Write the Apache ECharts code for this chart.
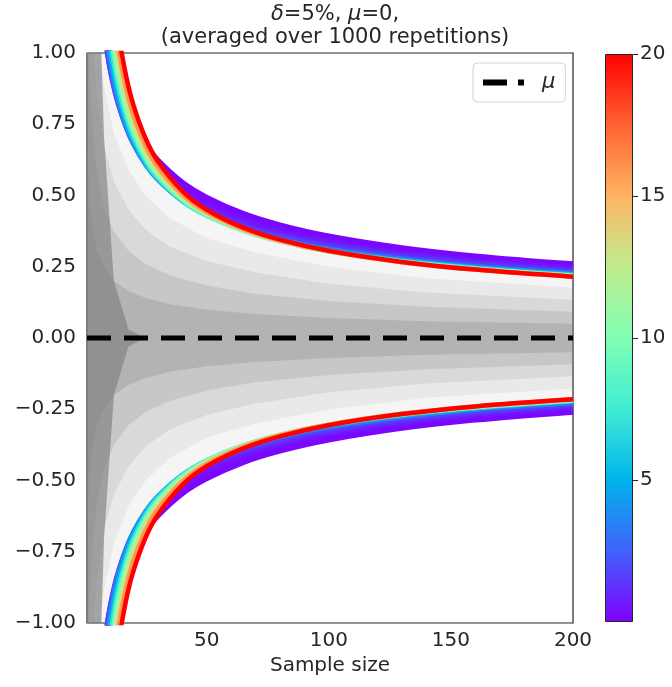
<!DOCTYPE html>
<html>
<head>
<meta charset="utf-8">
<script src="https://cdn.jsdelivr.net/npm/echarts@6/dist/echarts.min.js"></script>
<style>
  html, body { margin: 0; padding: 0; background: #fff; }
  #main { width: 672px; height: 687px; }
</style>
</head>
<body>
<div id="main"></div>
<script>
// gray cloud of running means, read as nested envelopes (half widths)
var grayN = [1, 2, 3, 5, 8, 12, 18, 25, 35, 50, 70, 100, 140, 200];
var grayOuter = [3.2, 2.26, 1.85, 1.43, 1.13, 0.92, 0.75, 0.64, 0.54, 0.45, 0.38, 0.32, 0.27, 0.226];
var grayWide = [2.5, 1.77, 1.44, 1.12, 0.88, 0.72, 0.59, 0.50, 0.42, 0.35, 0.30, 0.25, 0.21, 0.177];
var grayMid = [1.9, 1.34, 1.10, 0.85, 0.67, 0.55, 0.45, 0.38, 0.32, 0.27, 0.23, 0.19, 0.16, 0.134];
var grayInner = [1.3, 0.92, 0.75, 0.58, 0.46, 0.375, 0.306, 0.26, 0.22, 0.184, 0.155, 0.13, 0.11, 0.092];
var grayCenter = [0.7, 0.49, 0.40, 0.31, 0.25, 0.20, 0.165, 0.14, 0.118, 0.099, 0.084, 0.07, 0.059, 0.05];
var grayCore = [3.0, 2.6, 2.2, 1.5, 0.7, 0.2, 0.03, 0, 0, 0, 0, 0, 0, 0];

// confidence bounds, one row per colour value
var boundN = [8, 10, 12, 14, 17, 20, 25, 30, 40, 50, 65, 80, 100, 130, 160, 200];
var boundRho = [0.1, 0.2, 0.3, 0.5, 0.7, 1, 1.5, 3, 5, 7, 9, 11, 13, 16, 20];
var bounds = [
  [1.147, 1.035, 0.952, 0.887, 0.812, 0.753, 0.680, 0.626, 0.548, 0.495, 0.438, 0.398, 0.359, 0.318, 0.289, 0.261],
  [1.115, 1.006, 0.925, 0.862, 0.789, 0.732, 0.661, 0.608, 0.533, 0.481, 0.426, 0.388, 0.350, 0.310, 0.282, 0.254],
  [1.099, 0.991, 0.911, 0.848, 0.776, 0.720, 0.650, 0.598, 0.524, 0.473, 0.419, 0.381, 0.344, 0.305, 0.277, 0.250],
  [1.083, 0.974, 0.894, 0.832, 0.760, 0.705, 0.636, 0.585, 0.513, 0.463, 0.411, 0.373, 0.337, 0.299, 0.272, 0.245],
  [1.076, 0.966, 0.886, 0.823, 0.752, 0.697, 0.628, 0.577, 0.506, 0.457, 0.405, 0.368, 0.332, 0.295, 0.268, 0.242],
  [1.073, 0.961, 0.879, 0.816, 0.744, 0.689, 0.620, 0.570, 0.499, 0.450, 0.399, 0.363, 0.327, 0.290, 0.264, 0.238],
  [1.079, 0.961, 0.876, 0.812, 0.738, 0.682, 0.613, 0.562, 0.492, 0.443, 0.392, 0.357, 0.322, 0.285, 0.260, 0.234],
  [1.119, 0.985, 0.890, 0.819, 0.739, 0.679, 0.607, 0.555, 0.482, 0.434, 0.383, 0.348, 0.313, 0.278, 0.252, 0.228],
  [1.188, 1.031, 0.923, 0.843, 0.754, 0.689, 0.611, 0.556, 0.480, 0.430, 0.378, 0.342, 0.308, 0.272, 0.247, 0.223],
  [1.258, 1.081, 0.960, 0.872, 0.775, 0.704, 0.620, 0.561, 0.482, 0.430, 0.377, 0.340, 0.305, 0.270, 0.245, 0.220],
  [1.327, 1.132, 0.999, 0.902, 0.797, 0.721, 0.631, 0.569, 0.485, 0.431, 0.377, 0.339, 0.304, 0.268, 0.243, 0.219],
  [1.393, 1.181, 1.037, 0.932, 0.819, 0.738, 0.643, 0.577, 0.490, 0.434, 0.378, 0.340, 0.304, 0.267, 0.242, 0.217],
  [1.457, 1.229, 1.074, 0.962, 0.842, 0.756, 0.655, 0.586, 0.495, 0.437, 0.379, 0.340, 0.304, 0.266, 0.241, 0.216],
  [1.549, 1.298, 1.129, 1.007, 0.876, 0.782, 0.674, 0.600, 0.504, 0.442, 0.382, 0.342, 0.304, 0.266, 0.240, 0.215],
  [1.664, 1.385, 1.198, 1.064, 0.920, 0.818, 0.700, 0.620, 0.516, 0.450, 0.387, 0.345, 0.306, 0.267, 0.240, 0.215]
];

var meanN = [1, 200];
var meanVal = [0, 0];

var xTicks = [50, 100, 150, 200];
var colorMax = 20;

var TXT = '#262626';
var FONT = 'DejaVu Sans';

// matplotlib 'rainbow' colormap
function rainbow(t) {
  var r = Math.min(1, Math.abs(2 * t - 0.5));
  var g = Math.sin(Math.PI * t);
  var b = Math.cos(Math.PI * t / 2);
  return 'rgb(' + Math.round(r * 255) + ',' + Math.round(g * 255) + ',' + Math.round(b * 255) + ')';
}

function grayBand(vals, color) {
  return {
    type: 'custom',
    coordinateSystem: 'cartesian2d',
    clip: true,
    silent: true,
    z: 1,
    data: [[1, 0]],
    renderItem: function (params, api) {
      var pts = [];
      for (var i = 0; i < grayN.length; i++) pts.push(api.coord([grayN[i], vals[i]]));
      for (var j = grayN.length - 1; j >= 0; j--) pts.push(api.coord([grayN[j], -vals[j]]));
      return { type: 'polygon', shape: { points: pts }, style: { fill: color } };
    }
  };
}

var series = [
  grayBand(grayOuter, 'rgba(128,128,128,0.08)'),
  grayBand(grayWide, 'rgba(128,128,128,0.10)'),
  grayBand(grayMid, 'rgba(128,128,128,0.15)'),
  grayBand(grayInner, 'rgba(128,128,128,0.20)'),
  grayBand(grayCenter, 'rgba(128,128,128,0.28)'),
  grayBand(grayCore, 'rgba(128,128,128,0.65)')
];

for (var k = 0; k < boundRho.length; k++) {
  var col = rainbow(boundRho[k] / colorMax);
  var up = [], lo = [];
  for (var i = 0; i < boundN.length; i++) {
    up.push([boundN[i], bounds[k][i]]);
    lo.push([boundN[i], -bounds[k][i]]);
  }
  [up, lo].forEach(function (d) {
    series.push({
      type: 'line',
      data: d,
      symbol: 'none',
      smooth: 0.35,
      silent: true,
      z: 3,
      lineStyle: { color: col, width: 4.5 }
    });
  });
}

series.push({
  name: 'μ',
  type: 'line',
  data: meanN.map(function (n, i) { return [n, meanVal[i]]; }),
  symbol: 'none',
  z: 4,
  lineStyle: { color: '#000', width: 5, type: [24, 13] },
  itemStyle: { color: '#000' }
});

// colour bar
series.push({
  type: 'bar',
  xAxisIndex: 1,
  yAxisIndex: 1,
  data: [colorMax],
  barWidth: '100%',
  silent: true,
  itemStyle: {
    borderColor: TXT,
    borderWidth: 1,
    color: {
      type: 'linear', x: 0, y: 0, x2: 0, y2: 1,
      colorStops: [0, 0.125, 0.25, 0.375, 0.5, 0.625, 0.75, 0.875, 1].map(function (s) {
        return { offset: s, color: rainbow(1 - s) };
      })
    }
  }
});

var chart = echarts.init(document.getElementById('main'));
chart.setOption({
  animation: false,
  backgroundColor: '#fff',
  textStyle: { fontFamily: FONT, color: TXT },
  title: {
    text: '{i|δ}=5%, {i|μ}=0,\n(averaged over 1000 repetitions)',
    left: 330,
    top: -2,
    textAlign: 'center',
    textStyle: {
      fontFamily: FONT, fontSize: 21, fontWeight: 'normal', color: TXT, lineHeight: 23, align: 'center',
      rich: { i: { fontFamily: FONT, fontSize: 21, fontStyle: 'italic', color: TXT, lineHeight: 23 } }
    }
  },
  legend: {
    data: [{ name: 'μ', icon: 'path://M0,0 H24 V6 H0 Z M35,0 H41 V6 H35 Z' }],
    left: 473,
    top: 63,
    padding: [9, 10, 9, 10],
    itemWidth: 41,
    itemHeight: 6,
    borderColor: '#d4d4d4',
    borderWidth: 1,
    borderRadius: 4,
    backgroundColor: '#fff',
    itemStyle: { color: '#000' },
    textStyle: { fontFamily: FONT, fontSize: 21, fontStyle: 'italic', color: TXT, padding: [0, 0, 0, 13] }
  },
  grid: [
    { left: 87, top: 53, width: 486, height: 570, show: true, borderColor: TXT, borderWidth: 1.2, backgroundColor: '#fff' },
    { left: 605, top: 54, width: 28, height: 568 }
  ],
  xAxis: [
    {
      type: 'value', gridIndex: 0, min: 1, max: 200,
      axisLine: { show: false }, axisTick: { show: false }, splitLine: { show: false },
      axisLabel: { customValues: xTicks, fontSize: 20, color: TXT, margin: 8 },
      name: 'Sample size', nameLocation: 'middle', nameGap: 32,
      nameTextStyle: { fontSize: 20, color: TXT, fontFamily: FONT }
    },
    { type: 'category', gridIndex: 1, data: [''], show: false }
  ],
  yAxis: [
    {
      type: 'value', gridIndex: 0, min: -1, max: 1, interval: 0.25,
      axisLine: { show: false }, axisTick: { show: false }, splitLine: { show: false },
      axisLabel: {
        fontSize: 20, color: TXT, margin: 11,
        formatter: function (v) { return (v < 0 ? '\u2212' : '') + Math.abs(v).toFixed(2); }
      }
    },
    {
      type: 'value', gridIndex: 1, position: 'right', min: 0, max: colorMax, interval: 5,
      axisLine: { show: false }, splitLine: { show: false },
      axisTick: { show: true, length: 5, lineStyle: { color: TXT } },
      axisLabel: { fontSize: 20, color: TXT, margin: 7, showMinLabel: false }
    }
  ],
  series: series
});
</script>
</body>
</html>
